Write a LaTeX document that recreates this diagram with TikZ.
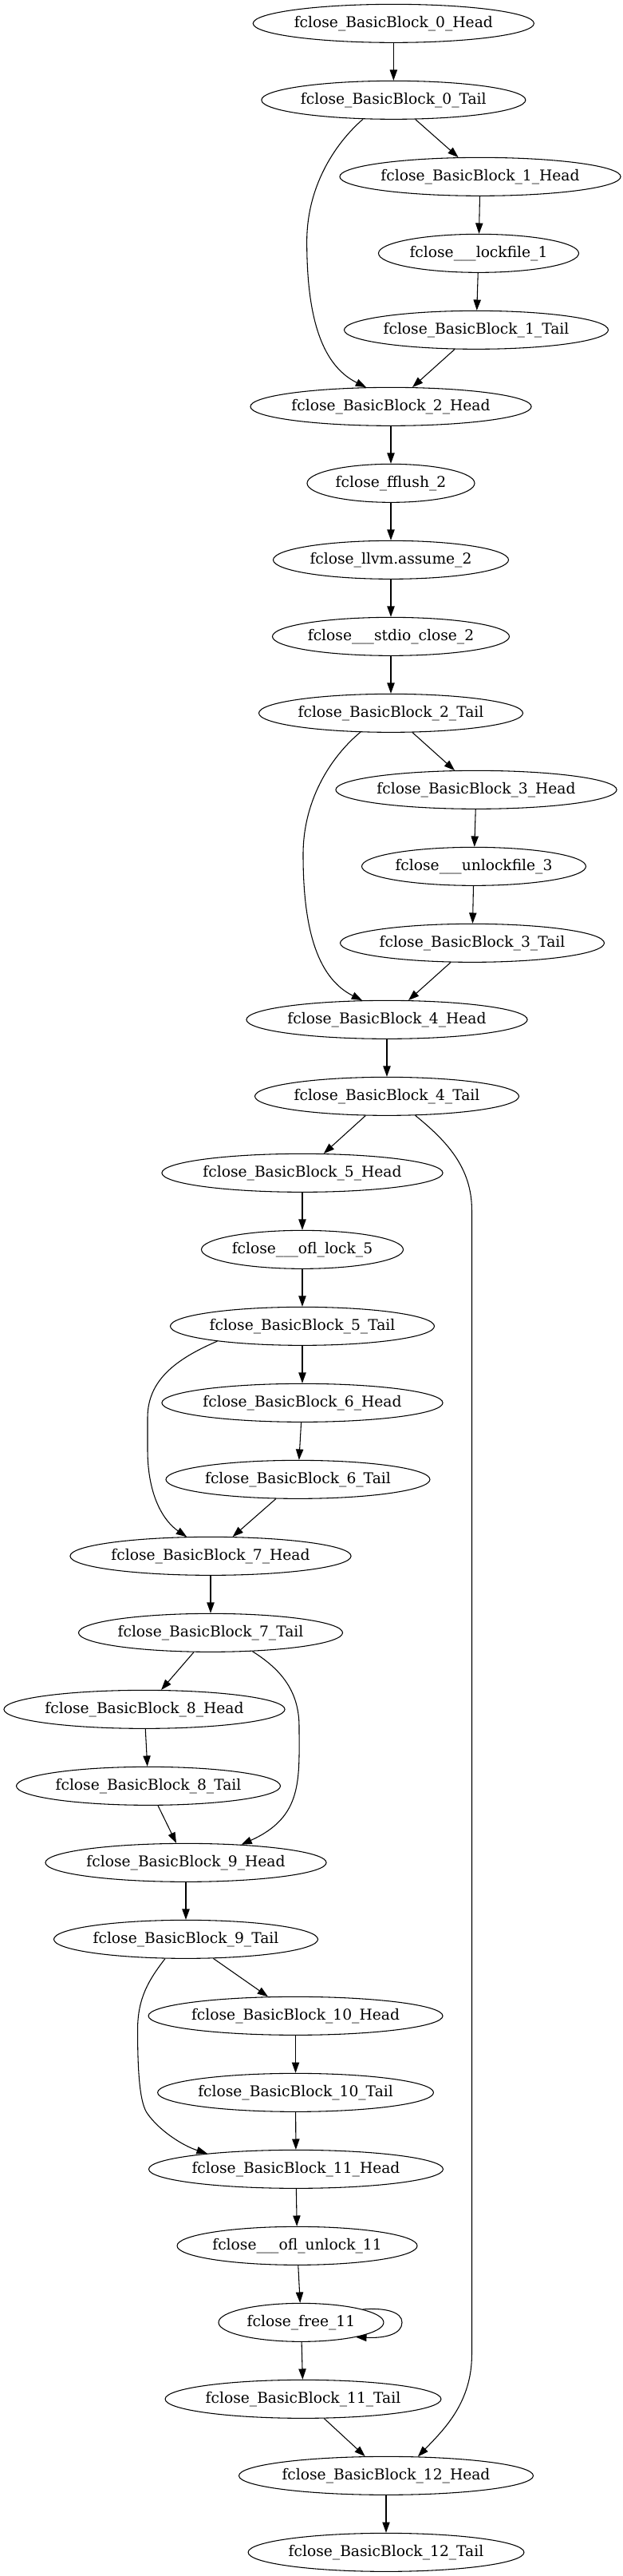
\documentclass[tikz,border=0pt]{standalone}
\usepackage{fontspec}
\setmainfont{DejaVu Serif}
\usetikzlibrary{shapes.geometric,arrows.meta}
\begin{document}
\begin{tikzpicture}[x=1pt,y=1pt,
  nd/.style={draw, ellipse, line width=0.8pt, inner sep=0pt, minimum height=36pt,
    font=\fontsize{14pt}{16pt}\selectfont},
  hs/.style={nd, minimum width=263.25pt},
  ts/.style={nd, minimum width=248.25pt},
  hd/.style={nd, minimum width=275.25pt},
  td/.style={nd, minimum width=258.75pt},
  edge/.style={line width=0.8pt, -{Triangle[length=10pt,width=7pt]}}]
\useasboundingbox (0,22) rectangle (585.75,-2398.25);

\node[hs] (n0h) at (370,0) {fclose\_BasicBlock\_0\_Head};
\node[ts] (n0t) at (370,-72) {fclose\_BasicBlock\_0\_Tail};
\node[hs] (n1h) at (451.5,-144) {fclose\_BasicBlock\_1\_Head};
\node[nd, minimum width=188.25pt] (lk1) at (450,-216) {fclose\_\_\_lockfile\_1};
\node[ts] (n1t) at (447.75,-288) {fclose\_BasicBlock\_1\_Tail};
\node[hs] (n2h) at (367.5,-360) {fclose\_BasicBlock\_2\_Head};
\node[nd, minimum width=157.5pt] (ff2) at (367.5,-432) {fclose\_fflush\_2};
\node[nd, minimum width=221.25pt] (ll2) at (367.5,-504) {fclose\_llvm.assume\_2};
\node[nd, minimum width=222.75pt] (sc2) at (367.5,-576) {fclose\_\_\_stdio\_close\_2};
\node[ts] (n2t) at (367.5,-648) {fclose\_BasicBlock\_2\_Tail};
\node[hs] (n3h) at (447.75,-720) {fclose\_BasicBlock\_3\_Head};
\node[nd, minimum width=210.75pt] (ul3) at (445.5,-792) {fclose\_\_\_unlockfile\_3};
\node[ts] (n3t) at (444,-864) {fclose\_BasicBlock\_3\_Tail};
\node[hs] (n4h) at (363.75,-936) {fclose\_BasicBlock\_4\_Head};
\node[ts] (n4t) at (363.75,-1008) {fclose\_BasicBlock\_4\_Tail};
\node[hs] (n5h) at (284.25,-1080) {fclose\_BasicBlock\_5\_Head};
\node[nd, minimum width=189.75pt] (ol5) at (284.25,-1152) {fclose\_\_\_ofl\_lock\_5};
\node[ts] (n5t) at (284.25,-1224) {fclose\_BasicBlock\_5\_Tail};
\node[hs] (n6h) at (284.25,-1296) {fclose\_BasicBlock\_6\_Head};
\node[ts] (n6t) at (280.1,-1368) {fclose\_BasicBlock\_6\_Tail};
\node[hs] (n7h) at (198,-1440) {fclose\_BasicBlock\_7\_Head};
\node[ts] (n7t) at (198,-1512) {fclose\_BasicBlock\_7\_Tail};
\node[hs] (n8h) at (135.75,-1584) {fclose\_BasicBlock\_8\_Head};
\node[ts] (n8t) at (139.5,-1656) {fclose\_BasicBlock\_8\_Tail};
\node[hs] (n9h) at (174.75,-1728) {fclose\_BasicBlock\_9\_Head};
\node[ts] (n9t) at (174.75,-1800) {fclose\_BasicBlock\_9\_Tail};
\node[hd] (n10h) at (277.9,-1872) {fclose\_BasicBlock\_10\_Head};
\node[td] (n10t) at (277.9,-1944) {fclose\_BasicBlock\_10\_Tail};
\node[hd] (n11h) at (278.25,-2016) {fclose\_BasicBlock\_11\_Head};
\node[nd, minimum width=225.75pt] (ou11) at (279.4,-2088) {fclose\_\_\_ofl\_unlock\_11};
\node[nd, minimum width=155.25pt] (fr11) at (283.1,-2160) {fclose\_free\_11};
\node[td] (n11t) at (285,-2232) {fclose\_BasicBlock\_11\_Tail};
\node[hd] (n12h) at (363,-2304) {fclose\_BasicBlock\_12\_Head};
\node[td] (n12t) at (363,-2376) {fclose\_BasicBlock\_12\_Tail};

\foreach \a/\b in {n0h/n0t, n0t/n1h, n1h/lk1, lk1/n1t, n1t/n2h, n2h/ff2, ff2/ll2,
  ll2/sc2, sc2/n2t, n2t/n3h, n3h/ul3, ul3/n3t, n3t/n4h, n4h/n4t, n4t/n5h, n5h/ol5,
  ol5/n5t, n5t/n6h, n6h/n6t, n6t/n7h, n7h/n7t, n7t/n8h, n8h/n8t, n8t/n9h, n9h/n9t,
  n9t/n10h, n10h/n10t, n10t/n11h, n11h/ou11, ou11/fr11, fr11/n11t, n11t/n12h, n12h/n12t}
  \draw[edge] (\a) -- (\b);

\draw[edge] (n0t.212) .. controls (318,-110) and (288.5,-150) .. (288.5,-205)
  .. controls (288.5,-270) and (300,-320) .. (n2h.142);
\draw[edge] (n2t.212) .. controls (314.5,-686) and (285,-726) .. (285,-781)
  .. controls (285,-846) and (296.5,-896) .. (n4h.142);
\draw[edge] (n5t.190) .. controls (165,-1255) and (138.75,-1275) .. (138.75,-1310)
  -- (138.75,-1340) .. controls (138.75,-1385) and (155,-1408) .. (n7h.141);
\draw[edge] (n4t.-34) .. controls (420,-1050) and (443.6,-1075) .. (443.6,-1115)
  -- (443.6,-2190) .. controls (443.6,-2235) and (418,-2260) .. (n12h.31);
\draw[edge] (n7t.-24) .. controls (262,-1545) and (281.25,-1565) .. (281.25,-1600)
  .. controls (281.25,-1650) and (285,-1685) .. (n9h.18);
\draw[edge] (n9t.223) .. controls (140,-1838) and (129.4,-1855) .. (129.4,-1885)
  .. controls (129.4,-1930) and (132,-1955) .. (138.75,-1964)
  .. controls (150,-1980) and (172,-1994) .. (n11h.170);
\coordinate (frl) at (378,-2160);
\draw[edge] (fr11.12) .. controls (362,-2146) and (378,-2150) .. (frl)
  .. controls (378,-2171) and (362,-2175) .. (fr11.-15);
\end{tikzpicture}
\end{document}
